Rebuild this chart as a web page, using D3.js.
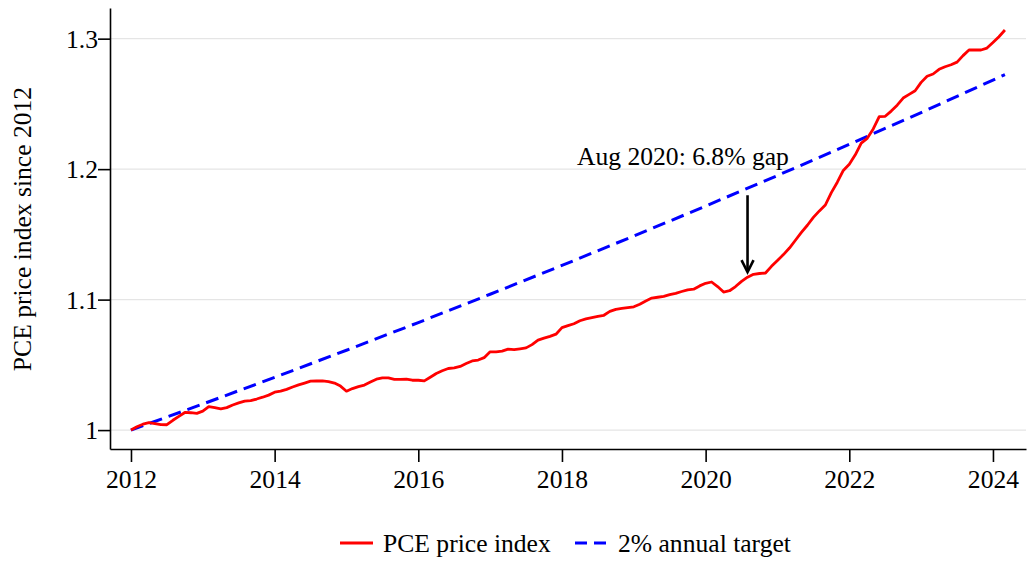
<!DOCTYPE html>
<html>
<head>
<meta charset="utf-8">
<script src="https://cdn.jsdelivr.net/npm/d3@7"></script>
<style>
  body { margin: 0; background: #fff; }
  svg text { font-family: "Liberation Serif", "Times New Roman", Times, serif; fill: #000; }
</style>
</head>
<body>
<div id="chart"></div>
<script>
// monthly PCE price index, Jan 2012 = 1, Jan 2012 .. Mar 2024
var pceValues = [
  1.0000, 1.0025, 1.0045, 1.0057, 1.0050, 1.0042, 1.0041, 1.0075, 1.0105, 1.0135, 1.0133, 1.0128,
  1.0145, 1.0180, 1.0172, 1.0162, 1.0172, 1.0192, 1.0208, 1.0222, 1.0226, 1.0238, 1.0252, 1.0268,
  1.0290, 1.0298, 1.0312, 1.0330, 1.0346, 1.0360, 1.0375, 1.0376, 1.0377, 1.0372, 1.0360, 1.0337,
  1.0298, 1.0318, 1.0333, 1.0345, 1.0368, 1.0390, 1.0400, 1.0400, 1.0388, 1.0388, 1.0390, 1.0382,
  1.0382, 1.0377, 1.0405, 1.0434, 1.0455, 1.0472, 1.0476, 1.0488, 1.0510, 1.0530, 1.0537, 1.0555,
  1.0600, 1.0600, 1.0605, 1.0620, 1.0617, 1.0623, 1.0630, 1.0655, 1.0690, 1.0705, 1.0718, 1.0735,
  1.0785, 1.0800, 1.0815, 1.0838, 1.0852, 1.0862, 1.0872, 1.0880, 1.0910, 1.0925, 1.0932, 1.0938,
  1.0945, 1.0965, 1.0990, 1.1012, 1.1018, 1.1025, 1.1038, 1.1048, 1.1062, 1.1075, 1.1080, 1.1105,
  1.1125, 1.1135, 1.1100, 1.1058, 1.1068, 1.1100, 1.1140, 1.1172, 1.1194, 1.1200, 1.1204, 1.1255,
  1.1300, 1.1345, 1.1395, 1.1455, 1.1515, 1.1570, 1.1630, 1.1680, 1.1725, 1.1820, 1.1900, 1.1990,
  1.2038, 1.2110, 1.2200, 1.2236, 1.2308, 1.2403, 1.2405, 1.2445, 1.2490, 1.2545, 1.2573, 1.2601,
  1.2665, 1.2712, 1.2729, 1.2765, 1.2785, 1.2800, 1.2820, 1.2870, 1.2913, 1.2913, 1.2913, 1.2928,
  1.2970, 1.3015, 1.3066
];
var startYear = 2012;

// 2% target line, read at each January and at the last month
var targetDates = [2012, 2013, 2014, 2015, 2016, 2017, 2018, 2019, 2020, 2021, 2022, 2023, 2024, 2024 + 2 / 12];
var targetValues = [1, 1.02, 1.0404, 1.0612, 1.0824, 1.1041, 1.1262, 1.1487, 1.1717, 1.1951, 1.2190, 1.2434, 1.2682, 1.2724];

var xTicks = [2012, 2014, 2016, 2018, 2020, 2022, 2024];
var yTicks = [1, 1.1, 1.2, 1.3];
var yTickLabels = ["1", "1.1", "1.2", "1.3"];

var annoDate = 2020 + 7 / 12; // Aug 2020
var annoLabel = "Aug 2020: 6.8% gap";
var seriesNames = ["PCE price index", "2% annual target"];
var yTitle = "PCE price index since 2012";

var WIDTH = 1029, HEIGHT = 565;
var FONT = 25.6;
var SERIF = "Liberation Serif, Times New Roman, Times, serif";

var svg = d3.select("#chart").append("svg")
  .attr("width", WIDTH)
  .attr("height", HEIGHT)
  .attr("font-family", SERIF);

var x = d3.scaleLinear().domain([2011.708, 2024.46]).range([110, 1026]);
var y = d3.scaleLinear().domain([0.9855, 1.3235]).range([449, 8]);

// gridlines
svg.append("g")
  .selectAll("line")
  .data(yTicks)
  .enter()
  .append("line")
  .attr("x1", 111)
  .attr("x2", 1026)
  .attr("y1", function(d) { return y(d); })
  .attr("y2", function(d) { return y(d); })
  .attr("stroke", "#e5e5e5")
  .attr("stroke-width", 1.2);

// axes
var xAxis = svg.append("g")
  .attr("transform", "translate(0,449)")
  .call(d3.axisBottom(x).tickValues(xTicks).tickFormat(d3.format("d")).tickSize(13).tickSizeOuter(0));
var yAxis = svg.append("g")
  .attr("transform", "translate(110,0)")
  .call(d3.axisLeft(y).tickValues(yTicks).tickFormat(function(d, i) { return yTickLabels[i]; }).tickSize(12).tickSizeOuter(0));

[xAxis, yAxis].forEach(function(g) {
  g.attr("font-family", SERIF).attr("font-size", FONT);
  g.select(".domain").attr("stroke", "#000").attr("stroke-width", 1.6);
  g.selectAll(".tick line").attr("stroke", "#000").attr("stroke-width", 1.6);
  g.selectAll(".tick text").attr("fill", "#000");
});
xAxis.selectAll(".tick text").attr("y", 21).attr("dy", "0.71em");
yAxis.selectAll(".tick text").attr("x", -12).attr("dy", "0.34em");

// y title
svg.append("text")
  .attr("transform", "translate(31,229) rotate(-90)")
  .attr("text-anchor", "middle")
  .attr("font-size", FONT)
  .text(yTitle);

// lines
var pceLine = d3.line()
  .x(function(d, i) { return x(startYear + i / 12); })
  .y(function(d) { return y(d); });

var targetLine = d3.line()
  .x(function(d, i) { return x(targetDates[i]); })
  .y(function(d) { return y(d); });

svg.append("path")
  .datum(targetValues)
  .attr("d", targetLine)
  .attr("fill", "none")
  .attr("stroke", "#0000ff")
  .attr("stroke-width", 3)
  .attr("stroke-dasharray", "13,7");

svg.append("path")
  .datum(pceValues)
  .attr("d", pceLine)
  .attr("fill", "none")
  .attr("stroke", "#ff0000")
  .attr("stroke-width", 2.8)
  .attr("stroke-linejoin", "round");

// annotation arrow
var annoIdx = Math.round((annoDate - startYear) * 12);
var ax = x(annoDate);
var targetAt = d3.scaleLinear().domain(targetDates).range(targetValues)(annoDate);
var yTop = y(targetAt) + 7;
var yTip = y(pceValues[annoIdx]) - 5;
svg.append("line")
  .attr("x1", ax).attr("x2", ax)
  .attr("y1", yTop).attr("y2", yTip - 1)
  .attr("stroke", "#000")
  .attr("stroke-width", 2.6);
svg.append("path")
  .attr("d", "M" + (ax - 6) + "," + (yTip - 12) + "L" + ax + "," + yTip + "L" + (ax + 6) + "," + (yTip - 12))
  .attr("fill", "none")
  .attr("stroke", "#000")
  .attr("stroke-width", 2.6);
svg.append("text")
  .attr("x", 577)
  .attr("y", 165)
  .attr("font-size", FONT)
  .text(annoLabel);

// legend
var legend = svg.append("g");
legend.append("line")
  .attr("x1", 340).attr("x2", 373).attr("y1", 543).attr("y2", 543)
  .attr("stroke", "#ff0000").attr("stroke-width", 2.8);
legend.append("text")
  .attr("x", 383).attr("y", 552)
  .attr("font-size", FONT)
  .text(seriesNames[0]);
legend.append("line")
  .attr("x1", 575).attr("x2", 608).attr("y1", 543).attr("y2", 543)
  .attr("stroke", "#0000ff").attr("stroke-width", 3)
  .attr("stroke-dasharray", "12,7");
legend.append("text")
  .attr("x", 618).attr("y", 552)
  .attr("font-size", FONT)
  .text(seriesNames[1]);
</script>
</body>
</html>
